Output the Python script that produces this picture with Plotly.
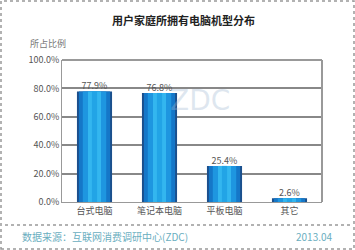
import plotly.graph_objects as go

categories = ["台式电脑", "笔记本电脑", "平板电脑", "其它"]
values = [77.9, 76.8, 25.4, 2.6]
value_labels = ["77.9%", "76.8%", "25.4%", "2.6%"]
tick_vals = [0, 20, 40, 60, 80, 100]
tick_text = ["0.0%", "20.0%", "40.0%", "60.0%", "80.0%", "100.0%"]

FONT = "Noto Sans CJK SC, DejaVu Sans, sans-serif"
fig = go.Figure()

layers = [(0.54, "#1b4f8c"), (0.48, "#1577c8"), (0.36, "#1e96e0"), (0.2, "#33b6ef"), (0.08, "#22a4e6")]
for w, c in layers:
    fig.add_trace(go.Bar(x=categories, y=values, width=w, marker=dict(color=c, line=dict(width=0)),
                         hoverinfo="skip", showlegend=False))

fig.add_trace(go.Scatter(x=categories, y=values, mode="text", text=value_labels,
                         textposition="top center", textfont=dict(size=9, color="#555555", family=FONT),
                         showlegend=False, hoverinfo="skip"))

fig.update_layout(
    width=355, height=250, barmode="overlay",
    margin=dict(l=62, r=33, t=60, b=48),
    paper_bgcolor="white", plot_bgcolor="white",
    font=dict(family=FONT, size=9, color="#555555"),
    xaxis=dict(showgrid=False, showline=True, linecolor="#999999", linewidth=1,
               ticks="", tickfont=dict(size=9, color="#555555"), mirror=False, fixedrange=True),
    yaxis=dict(range=[0, 100], tickvals=tick_vals, ticktext=tick_text, showgrid=True,
               gridcolor="#888888", gridwidth=1.5, showline=True, linecolor="#999999", linewidth=1,
               ticks="", tickfont=dict(size=9, color="#555555"), zeroline=False, fixedrange=True),
    annotations=[
        dict(text="<b>用户家庭所拥有电脑机型分布</b>", x=183, y=20, xref="paper", yref="paper",
             showarrow=False, font=dict(size=11, color="#222222", family=FONT)),
        dict(text="所占比例", x=28, y=44, showarrow=False, font=dict(size=9, color="#777777", family=FONT)),
        dict(text="数据来源：互联网消费调研中心(ZDC)", x=20, y=237, showarrow=False,
             font=dict(size=10, color="#6aaec0", family=FONT)),
        dict(text="2013.04", x=335, y=237, showarrow=False,
             font=dict(size=10, color="#6aaec0", family=FONT)),
        dict(text="ZDC", x=200, y=100, showarrow=False,
             font=dict(size=28, color="rgba(160,185,210,0.35)", family="DejaVu Sans")),
    ],
)

# convert pixel-placed annotations to paper coordinates
W, H = 355, 250
l, r, t, b = 62, 33, 60, 48
pw, ph = W - l - r, H - t - b
anns = []
for a in fig.layout.annotations:
    px, py = a.x, a.y
    if a.text.startswith("ZDC"):
        anns.append(dict(a.to_plotly_json(), xref="paper", yref="paper",
                         x=(px - l) / pw, y=1 - (py - t) / ph, xanchor="center", yanchor="middle"))
        continue
    xa = "center"
    if a.text.startswith("数据") or a.text.startswith("所占"):
        xa = "left"
    if a.text.startswith("2013"):
        xa = "right"
    if a.text.startswith("所占"):
        px = 28
    anns.append(dict(a.to_plotly_json(), xref="paper", yref="paper",
                     x=(px - l) / pw, y=1 - (py - t) / ph, xanchor=xa, yanchor="middle"))
fig.layout.annotations = anns

# top and right plot frame
fig.add_shape(type="line", xref="paper", yref="paper", x0=0, x1=1, y0=1, y1=1,
              line=dict(color="#999999", width=2))
fig.add_shape(type="line", xref="paper", yref="paper", x0=1, x1=1, y0=0, y1=1,
              line=dict(color="#999999", width=2))
# footer separator
fig.add_shape(type="line", xref="paper", yref="paper", x0=(5 - l) / pw, x1=(350 - l) / pw,
              y0=1 - (225 - t) / ph, y1=1 - (225 - t) / ph, line=dict(color="#999999", width=1.5, dash="dot"))
# outer dashed border
fig.add_shape(type="rect", xref="paper", yref="paper", x0=(1 - l) / pw, x1=(354 - l) / pw,
              y0=1 - (249 - t) / ph, y1=1 - (1 - t) / ph, line=dict(color="#999999", width=1.5, dash="dot"))

fig.write_html("out.html")
